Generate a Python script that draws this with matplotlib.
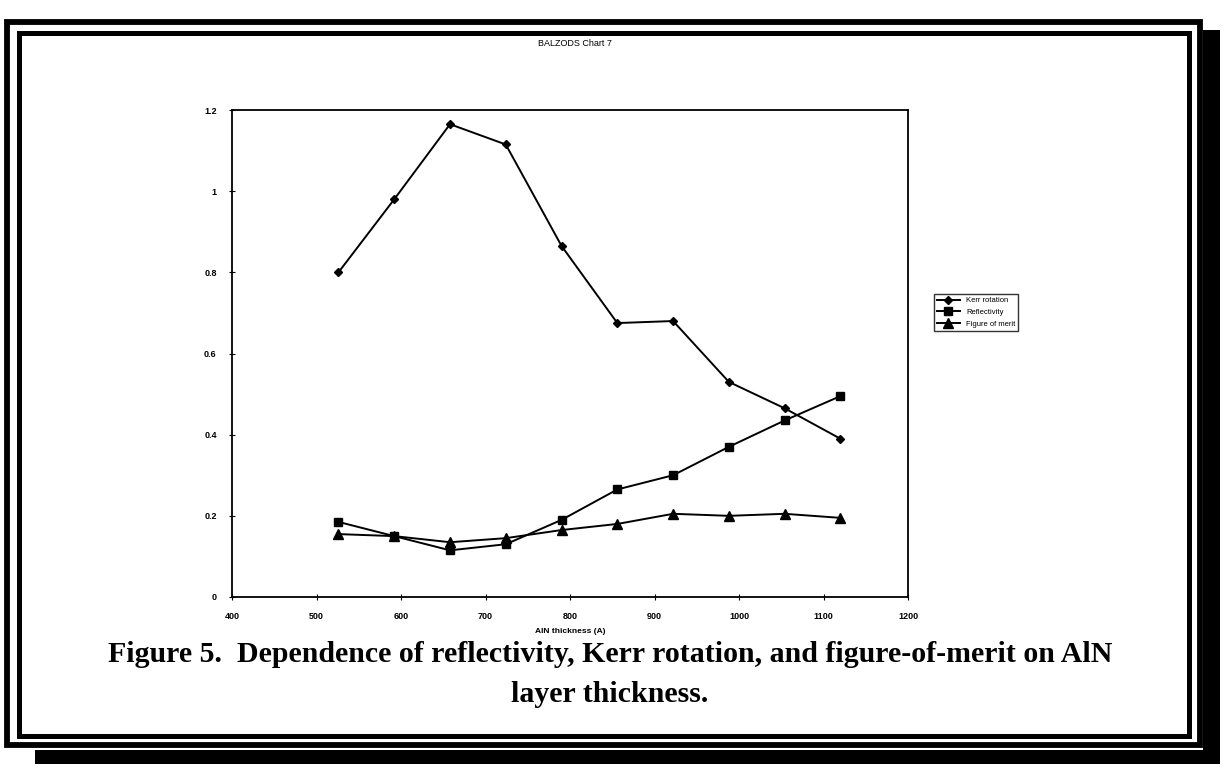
import matplotlib
matplotlib.use("Agg")
import matplotlib.pyplot as plt
from matplotlib.patches import Rectangle

# ---- data ----
thickness = [526, 592, 658, 724, 790, 856, 922, 988, 1054, 1120]
kerr_rotation = [0.80, 0.98, 1.165, 1.115, 0.865, 0.675, 0.68, 0.53, 0.465, 0.39]
reflectivity = [0.185, 0.15, 0.115, 0.13, 0.19, 0.265, 0.30, 0.37, 0.435, 0.495]
figure_of_merit = [0.155, 0.15, 0.135, 0.145, 0.165, 0.18, 0.205, 0.20, 0.205, 0.195]
x_ticks = [400, 500, 600, 700, 800, 900, 1000, 1100, 1200]
y_ticks = [0, 0.2, 0.4, 0.6, 0.8, 1, 1.2]
y_ticklabels = ["0", "0.2", "0.4", "0.6", "0.8", "1", "1.2"]
series_labels = ["Kerr rotation", "Reflectivity", "Figure of merit"]

W, H = 1226, 773
fig = plt.figure(figsize=(W / 100, H / 100), dpi=100)

# background overlay in pixel coords
bg = fig.add_axes([0, 0, 1, 1])
bg.set_xlim(0, W)
bg.set_ylim(H, 0)
bg.axis("off")
# shadow bands
bg.add_patch(Rectangle((1203, 30), 17, 734, color="black", lw=0))
bg.add_patch(Rectangle((35, 750), 1185, 14, color="black", lw=0))
# outer frame
bg.add_patch(Rectangle((7, 22), 1193, 723, fill=False, ec="black", lw=4.2))
# inner frame
bg.add_patch(Rectangle((19, 33), 1170, 703, fill=False, ec="black", lw=3.6))

bg.text(575, 44, "BALZODS Chart 7", ha="center", va="center", fontsize=6.5,
        family="Liberation Sans")

ax = fig.add_axes([232 / W, 1 - 597 / H, (908 - 232) / W, (597 - 110) / H])
ax.set_zorder(2)
lw = 1.4
ax.plot(thickness, kerr_rotation, color="black", lw=lw, marker="D", ms=4.5,
        label=series_labels[0])
ax.plot(thickness, reflectivity, color="black", lw=lw, marker="s", ms=6,
        label=series_labels[1])
ax.plot(thickness, figure_of_merit, color="black", lw=lw, marker="^", ms=6.5,
        label=series_labels[2])

ax.set_xlim(400, 1200)
ax.set_ylim(0, 1.2)
ax.set_xticks(x_ticks)
ax.set_xticklabels([str(t) for t in x_ticks], fontsize=6.5, family="Liberation Sans",
                   fontweight="bold")
ax.set_yticks(y_ticks)
ax.set_yticklabels(y_ticklabels, fontsize=6.5, family="Liberation Sans",
                   fontweight="bold")
ax.tick_params(direction="inout", length=4, width=0.8, pad=9)
for s in ax.spines.values():
    s.set_linewidth(1.3)
ax.set_xlabel("AlN thickness (A)", fontsize=6, family="Liberation Sans",
              fontweight="bold", labelpad=5)

leg = fig.legend(loc="upper left", bbox_to_anchor=(930 / W, 1 - 290 / H),
                 fontsize=5.5, frameon=True, fancybox=False, edgecolor="black",
                 handlelength=3, borderpad=0.4, labelspacing=0.6,
                 prop={"family": "Liberation Sans", "size": 5.5})
leg.get_frame().set_linewidth(1.0)

bg.text(610, 654, "Figure 5.  Dependence of reflectivity, Kerr rotation, and figure-of-merit on AlN",
        ha="center", va="center", fontsize=21.5, fontweight="bold",
        family="Liberation Serif")
bg.text(610, 694, "layer thickness.", ha="center", va="center", fontsize=21.5,
        fontweight="bold", family="Liberation Serif")

fig.savefig("out.png", dpi=100)
